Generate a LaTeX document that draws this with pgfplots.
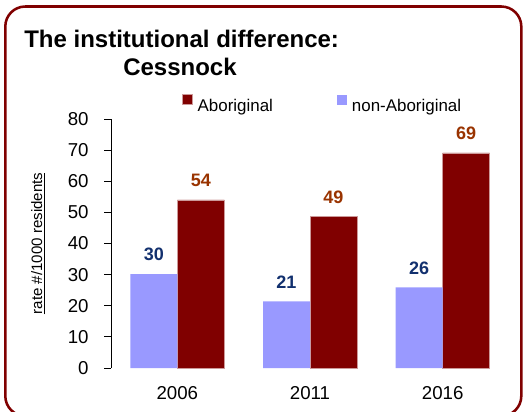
\documentclass[border=0pt]{standalone}
\usepackage{pgfplots}
\pgfplotsset{compat=1.18}
\usepackage{fontspec}
\setmainfont{Liberation Sans}
\definecolor{abo}{HTML}{800000}
\definecolor{nonabo}{HTML}{9999FF}
\definecolor{navy}{HTML}{12306E}
\definecolor{brown}{HTML}{993300}
\begin{document}
\begin{tikzpicture}
\useasboundingbox (0,0) rectangle (396pt,-308.25pt);
\begin{scope}[x=0.75pt,y=-0.75pt]
\clip (0,0) rectangle (528,411);
\draw[abo, line width=1.9pt, rounded corners=15pt] (5.3,6.5) rectangle (521.3,416);
\node[anchor=base west, inner sep=0pt, font=\fontsize{18pt}{20pt}\selectfont\bfseries] at (24,47) {The institutional difference:};
\node[anchor=base west, inner sep=0pt, font=\fontsize{18pt}{20pt}\selectfont\bfseries] at (123,75) {Cessnock};
\end{scope}
\begin{axis}[
  at={(83.25pt,-276pt)}, anchor=south west,
  scale only axis, width=298.5pt, height=186.75pt,
  xmin=-0.5, xmax=2.5, ymin=0, ymax=80,
  ytick={0,10,...,80},
  xtick={0,1,2}, xticklabels={2006,2011,2016},
  axis x line*=bottom, axis y line*=left,
  x axis line style={draw=none},
  y axis line style={black, line width=0.6pt},
  xtick style={draw=none},
  ytick style={black, line width=0.6pt},
  tick align=outside, major tick length=5.25pt,
  /pgf/number format/assume math mode=true,
  yticklabel style={font=\fontsize{14pt}{16pt}\selectfont, xshift=-8pt},
  xticklabel style={font=\fontsize{14pt}{16pt}\selectfont, yshift=-5pt},
  ylabel={\underline{rate \#/1000 residents}},
  ylabel style={font=\fontsize{11.3pt}{12pt}\selectfont, at={(axis description cs:-0.183,0.5)}, anchor=center},
  ybar, bar width=35.25pt,
  nodes near coords,
  nodes near coords style={/pgf/number format/.cd, fixed, precision=0, /tikz/.cd, font=\fontsize{13.5pt}{15pt}\selectfont\bfseries, anchor=base, yshift=10pt},
  legend columns=2,
  legend style={draw=none, fill=none, inner sep=0pt, at={(axis description cs:0.178,1.02)}, anchor=south west,
    font=\fontsize{12.7pt}{14pt}\selectfont, nodes={inner sep=0pt},
    /tikz/every odd column/.append style={column sep=3.75pt},
    /tikz/every even column/.append style={column sep=48pt}},
  legend image code/.code={\fill[#1] (0pt,1.5pt) rectangle (7.5pt,9pt);},
  clip=false,
]
\addplot[fill=abo, draw=abo!40, line width=0.4pt, bar shift=17.625pt, every node near coord/.append style={text=brown}]
  coordinates {(0,54.0) (1,48.6) (2,69.1)};
\addlegendentry{Aboriginal}
\addplot[fill=nonabo, draw=none, bar shift=-17.625pt, every node near coord/.append style={text=navy}]
  coordinates {(0,30.2) (1,21.4) (2,25.9)};
\addlegendentry{non-Aboriginal}
\end{axis}
\end{tikzpicture}
\end{document}
